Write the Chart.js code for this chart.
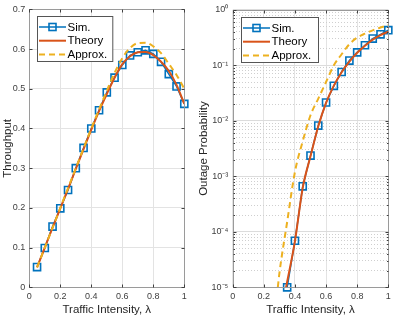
<!DOCTYPE html>
<html><head><meta charset="utf-8">
<script src="https://cdn.jsdelivr.net/npm/chart.js@4.4.1/dist/chart.umd.min.js"></script>
<style>
html,body{margin:0;padding:0;background:#fff;}
body{width:395px;height:318px;overflow:hidden;position:relative;}
#w1{position:absolute;left:0;top:0;width:197px;height:318px;}
#w2{position:absolute;left:197px;top:0;width:198px;height:318px;}
</style></head>
<body>
<div id="w1"><canvas id="c1" width="197" height="318"></canvas></div>
<div id="w2"><canvas id="c2" width="198" height="318"></canvas></div>
<script>
// ---- data ----
const lambdaSim = [0.05,0.10,0.15,0.20,0.25,0.30,0.35,0.40,0.45,0.50,0.55,0.60,0.65,0.70,0.75,0.80,0.85,0.90,0.95,1.00];
const throughputSim = [0.051,0.099,0.153,0.199,0.245,0.300,0.351,0.400,0.446,0.491,0.528,0.560,0.584,0.592,0.597,0.588,0.568,0.537,0.506,0.462];
const lambdaCurve = [0.05,0.10,0.15,0.20,0.25,0.30,0.35,0.40,0.45,0.50,0.55,0.60,0.65,0.70,0.75,0.80,0.85,0.90,0.95,1.00];
const throughputTheory = [0.050,0.100,0.150,0.199,0.248,0.298,0.348,0.397,0.444,0.487,0.528,0.562,0.582,0.592,0.593,0.585,0.568,0.545,0.510,0.462];
const throughputApprox = [0.050,0.100,0.150,0.200,0.250,0.300,0.350,0.400,0.448,0.495,0.540,0.577,0.603,0.615,0.616,0.607,0.590,0.563,0.535,0.500];

const lambdaOutSim = [0.35,0.40,0.45,0.50,0.55,0.60,0.65,0.70,0.75,0.80,0.85,0.90,0.95,1.00];
const outageSim = [1.0e-5,6.9e-5,6.6e-4,2.36e-3,8.2e-3,0.0214,0.0427,0.0758,0.1216,0.171,0.230,0.303,0.361,0.430];
const lambdaOutTheory = [0.343,0.40,0.45,0.50,0.55,0.60,0.65,0.70,0.75,0.80,0.85,0.90,0.95,1.00];
const outageTheory = [1.0e-5,6.8e-5,6.2e-4,2.3e-3,8.0e-3,0.021,0.043,0.075,0.117,0.168,0.226,0.290,0.350,0.405];
const lambdaOutApprox = [0.29,0.30,0.35,0.40,0.45,0.50,0.55,0.60,0.65,0.70,0.75,0.80,0.85,0.90,0.95,1.00];
const outageApprox = [1.0e-5,1.78e-5,1.51e-4,1.20e-3,4.27e-3,1.26e-2,2.51e-2,5.01e-2,0.100,0.158,0.240,0.316,0.372,0.427,0.479,0.525];

const xTicks = [0,0.2,0.4,0.6,0.8,1];
const throughputTicks = [0,0.1,0.2,0.3,0.4,0.5,0.6,0.7];
const outageDecades = [-5,-4,-3,-2,-1,0];
const seriesNames = ['Sim.','Theory','Approx.'];
const xTitle = 'Traffic Intensity, λ';
const yTitleLeft = 'Throughput';
const yTitleRight = 'Outage Probability';

// ---- styling ----
const BLUE='#0072BD', ORANGE='#D95319', YELLOW='#EDB120';
const FONT='"Liberation Sans", Arial, Helvetica, sans-serif';
const TICKC='#404040', TITLEC='#262626';
const pts=(xs,ys)=>xs.map((x,i)=>({x:x,y:ys[i]}));
const sup={'-':'⁻','0':'⁰','1':'¹','2':'²','3':'³','4':'⁴','5':'⁵','6':'⁶','7':'⁷','8':'⁸','9':'⁹'};
const supStr=s=>String(s).split('').map(c=>sup[c]).join('');
const isDecade=v=>Math.abs(Math.log10(v)-Math.round(Math.log10(v)))<1e-9;

function datasets(d1,d2,d3){
  return [
    {label:seriesNames[0],data:d1,borderColor:BLUE,borderWidth:1.5,pointStyle:'rect',pointRadius:5,pointBorderWidth:1.6,
     pointBackgroundColor:'rgba(0,0,0,0)',pointBorderColor:BLUE,pointHoverRadius:5,clip:false,order:3},
    {label:seriesNames[1],data:d2,borderColor:ORANGE,borderWidth:2,pointRadius:0,cubicInterpolationMode:'monotone',order:2},
    {label:seriesNames[2],data:d3,borderColor:YELLOW,borderWidth:2,borderDash:[6,4],pointRadius:0,cubicInterpolationMode:'monotone',order:1}
  ];
}

function framePlugin(legendDx, legendW){
  return {id:'frame', afterDraw(chart){
    const ctx=chart.ctx, a=chart.chartArea;
    const L=Math.round(a.left)+0.5, R=Math.round(a.right)+0.5, T=Math.round(a.top)+0.5, B=Math.round(a.bottom)+0.5;
    ctx.save();
    ctx.strokeStyle='#9a9a9a'; ctx.lineWidth=1;
    ctx.strokeRect(L,T,R-L,B-T);
    // inward ticks
    ctx.strokeStyle='#404040';
    const xs=chart.scales.x, ys=chart.scales.y;
    ctx.beginPath();
    xs.ticks.forEach(t=>{const p=Math.round(xs.getPixelForValue(t.value))+0.5; ctx.moveTo(p,B); ctx.lineTo(p,B-3); ctx.moveTo(p,T); ctx.lineTo(p,T+3);});
    ys.ticks.forEach(t=>{const p=Math.round(ys.getPixelForValue(t.value))+0.5; const len=(ys.type==='logarithmic'&&!isDecade(t.value))?1.5:3;
      ctx.moveTo(L,p); ctx.lineTo(L+len,p); ctx.moveTo(R,p); ctx.lineTo(R-len,p);});
    ctx.stroke();
    // legend
    const bx=Math.round(a.left+legendDx)+0.5, by=Math.round(a.top+7)+0.5, bw=legendW, bh=45;
    ctx.fillStyle='#fff'; ctx.fillRect(bx,by,bw,bh);
    ctx.strokeStyle='#555'; ctx.strokeRect(bx,by,bw,bh);
    const ds=chart.data.datasets;
    ds.forEach((d,i)=>{
      const y=by+10.5+i*13.7, x0=bx+1.5, x1=bx+28.5;
      ctx.save();
      ctx.strokeStyle=d.borderColor; ctx.lineWidth=d.borderWidth; ctx.setLineDash(d.borderDash||[]);
      ctx.beginPath(); ctx.moveTo(x0,y); ctx.lineTo(x1,y); ctx.stroke();
      if(i===0){ctx.setLineDash([]); ctx.lineWidth=1.6; ctx.strokeRect((x0+x1)/2-3.5,y-3.5,7,7);}
      ctx.restore();
      ctx.fillStyle='#000'; ctx.font='11.5px '+FONT; ctx.textBaseline='middle'; ctx.textAlign='left';
      ctx.fillText(d.label,x1+1.5,y+0.5);
    });
    ctx.restore();
  }};
}

const xScale=(fitH)=>({type:'linear',min:0,max:1,
  afterBuildTicks:s=>{s.ticks=xTicks.map(v=>({value:v}));},
  afterFit:s=>{s.height=fitH;},
  ticks:{autoSkip:false,maxRotation:0,padding:4,color:TICKC,font:{family:FONT,size:9},callback:v=>(v===0||v===1)?String(v):v.toFixed(1)},
  grid:{color:'#e3e3e3',lineWidth:1,drawTicks:false},
  border:{display:false},
  title:{display:true,text:xTitle,color:TITLEC,font:{family:FONT,size:11.5},padding:{top:0,bottom:1}}
});

Chart.defaults.animation=false;
Chart.defaults.font.family=FONT;

new Chart(document.getElementById('c1'),{
  type:'line',
  data:{datasets:datasets(pts(lambdaSim,throughputSim),pts(lambdaCurve,throughputTheory),pts(lambdaCurve,throughputApprox))},
  options:{responsive:false,animation:false,events:[],
    layout:{padding:{left:0,right:12.7,top:5,bottom:0}},
    plugins:{legend:{display:false},tooltip:{enabled:false}},
    scales:{
      x:xScale(30.7),
      y:{type:'linear',min:0,max:0.7,
        afterBuildTicks:s=>{s.ticks=throughputTicks.map(v=>({value:v}));},
        afterFit:s=>{s.width=29.3;},
        ticks:{autoSkip:false,padding:4,color:TICKC,font:{family:FONT,size:9},callback:v=>v===0?'0':v.toFixed(1)},
        grid:{color:'#e3e3e3',lineWidth:1,drawTicks:false},
        border:{display:false},
        title:{display:true,text:yTitleLeft,color:TITLEC,font:{family:FONT,size:11.5},padding:{top:0.8,bottom:0}}
      }
    }
  },
  plugins:[framePlugin(7.4,75.3)]
});

new Chart(document.getElementById('c2'),{
  type:'line',
  data:{datasets:datasets(pts(lambdaOutSim,outageSim),pts(lambdaOutTheory,outageTheory),pts(lambdaOutApprox,outageApprox))},
  options:{responsive:false,animation:false,events:[],
    layout:{padding:{left:0,right:6.7,top:5,bottom:0}},
    plugins:{legend:{display:false},tooltip:{enabled:false}},
    scales:{
      x:xScale(30.7),
      y:{type:'logarithmic',min:1e-5,max:1,
        afterBuildTicks:s=>{const t=[];outageDecades.forEach(d=>{for(let m=1;m<=9;m++){const v=m*Math.pow(10,d); if(v<=1.0000001) t.push({value:(m===1?Math.pow(10,d):v)});}}); s.ticks=t;},
        afterFit:s=>{s.width=35.7;},
        ticks:{autoSkip:false,padding:4.4,color:TICKC,font:{family:FONT,size:9},
          callback:v=>isDecade(v)?'10'+supStr(Math.round(Math.log10(v))):''},
        grid:{color:c=>(c.tick&&isDecade(c.tick.value))?'#dcdcdc':'#cfcfcf',lineWidth:1,drawTicks:false},
        border:{display:false,dash:c=>(c.tick&&!isDecade(c.tick.value))?[1,2]:[]},
        title:{display:true,text:yTitleRight,color:TITLEC,font:{family:FONT,size:11.5},padding:{top:0,bottom:0}}
      }
    }
  },
  plugins:[framePlugin(8,77)]
});
</script>
</body></html>
